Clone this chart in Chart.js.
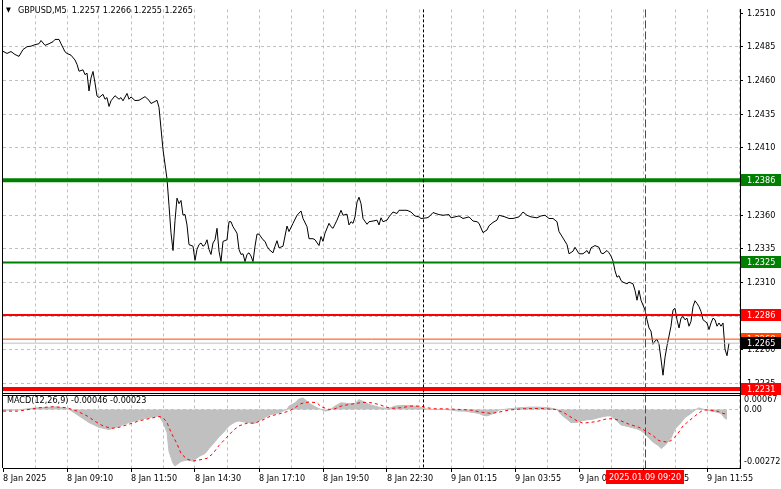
<!DOCTYPE html>
<html><head><meta charset="utf-8">
<script src="https://cdn.jsdelivr.net/npm/chart.js@4"></script>
<style>html,body{margin:0;padding:0;background:#fff;overflow:hidden}</style>
</head><body>
<canvas id="c" width="781" height="489"></canvas>
<script>
const FONT = "'DejaVu Sans Condensed','Liberation Sans',sans-serif";

// ---- time axis (bar index -> label) ----
const timeLabelBars = [0,32,64,96,128,160,192,224,256,288,320,352];
const timeLabels = ['8 Jan 2025','8 Jan 09:10','8 Jan 11:50','8 Jan 14:30','8 Jan 17:10','8 Jan 19:50','8 Jan 22:30','9 Jan 01:15','9 Jan 03:55','9 Jan 06:35','9 Jan 09:15','9 Jan 11:55'];
const daySeparatorBar = 210;      // 9 Jan 00:00
const markerBar = 321;            // 2025.01.09 09:20
const markerLabel = '2025.01.09 09:20';

// ---- price axis ----
const priceTicks = [1.2510,1.2485,1.2460,1.2435,1.2410,1.2385,1.2360,1.2335,1.2310,1.2285,1.2260,1.2235];
const macdTickLabels = ['0.00067','0.00','-0.00272'];
const macdTickValues = [0.00067,0,-0.00272];

// ---- header texts ----
const symbolText = 'GBPUSD,M5  1.2257 1.2266 1.2255 1.2265';
const macdText = 'MACD(12,26,9) -0.00046 -0.00023';

// ---- levels ----
const levelPrices = [1.2386, 1.2325, 1.2286, 1.2231, 1.2268, 1.2265];
const levelColors = ['#008000','#008000','#ff0000','#ff0000','#ff4500','#c0c0c0'];
const levelBoxColors = ['#008000','#008000','#ff0000','#ff0000','#ff4500','#000000'];

// ---- close prices [bar, close] ----
const priceSeries = [
[0,1.24818],[2,1.24802],[4,1.24816],[6,1.24794],[8,1.24780],[10,1.24831],[12,1.24852],[14,1.24856],[16,1.24867],[18,1.24874],
[19,1.24898],[21,1.24862],[23,1.24874],[25,1.24889],[26,1.24906],[28,1.24906],[29,1.24874],[31,1.24814],[32,1.24802],[34,1.24789],
[36,1.24753],[37,1.24721],[38,1.24670],[40,1.24680],[41,1.24644],[42,1.24656],[43,1.24523],[44,1.24620],[45,1.24668],[46,1.24583],
[47,1.24486],[48,1.24474],[50,1.24498],[51,1.24462],[52,1.24474],[53,1.24408],[54,1.24450],[56,1.24488],[58,1.24462],[59,1.24474],
[60,1.24450],[62,1.24505],[63,1.24462],[64,1.24479],[66,1.24452],[68,1.24454],[71,1.24481],[73,1.24454],[74,1.24430],[76,1.24445],
[77,1.24454],[78,1.24401],[80,1.24088],[82,1.23870],[83,1.23673],[84,1.23469],[85,1.23338],[86,1.23560],[87,1.23727],[88,1.23686],
[89,1.23710],[90,1.23601],[91,1.23606],[92,1.23528],[93,1.23382],[95,1.23370],[96,1.23265],[97,1.23346],[98,1.23382],[99,1.23394],
[100,1.23370],[101,1.23382],[102,1.23418],[103,1.23346],[104,1.23309],[105,1.23394],[106,1.23418],[107,1.23503],[108,1.23333],[109,1.23256],
[110,1.23406],[112,1.23418],[113,1.23552],[114,1.23552],[115,1.23515],[117,1.23467],[118,1.23346],[119,1.23309],[120,1.23314],[121,1.23256],
[122,1.23309],[123,1.23321],[124,1.23297],[125,1.23256],[126,1.23370],[127,1.23460],[128,1.23460],[130,1.23418],[131,1.23406],[132,1.23370],
[133,1.23346],[135,1.23321],[136,1.23370],[137,1.23411],[138,1.23358],[140,1.23370],[142,1.23520],[143,1.23479],[145,1.23540],[147,1.23600],
[149,1.23632],[150,1.23576],[152,1.23515],[153,1.23426],[155,1.23426],[156,1.23418],[158,1.23375],[159,1.23442],[160,1.23406],[161,1.23467],
[163,1.23540],[164,1.23515],[165,1.23503],[167,1.23564],[169,1.23637],[170,1.23600],[172,1.23608],[173,1.23528],[174,1.23552],[175,1.23540],
[176,1.23588],[177,1.23697],[178,1.23734],[179,1.23686],[180,1.23576],[182,1.23533],[183,1.23552],[185,1.23557],[187,1.23564],[188,1.23528],
[189,1.23581],[190,1.23552],[192,1.23564],[193,1.23588],[195,1.23624],[197,1.23613],[198,1.23637],[202,1.23637],[204,1.23624],[206,1.23595],
[208,1.23588],[209,1.23576],[212,1.23581],[213,1.23588],[215,1.23620],[218,1.23605],[220,1.23600],[223,1.23605],[224,1.23581],[226,1.23588],
[228,1.23595],[230,1.23576],[233,1.23588],[235,1.23557],[237,1.23552],[238,1.23540],[240,1.23471],[242,1.23491],[243,1.23522],[245,1.23547],
[247,1.23564],[248,1.23600],[251,1.23588],[253,1.23576],[255,1.23576],[258,1.23588],[260,1.23624],[262,1.23600],[264,1.23588],[267,1.23581],
[269,1.23595],[271,1.23600],[273,1.23576],[275,1.23576],[277,1.23552],[278,1.23479],[280,1.23431],[282,1.23382],[283,1.23314],[285,1.23333],
[286,1.23362],[288,1.23314],[290,1.23314],[292,1.23338],[293,1.23314],[294,1.23358],[296,1.23375],[298,1.23362],[299,1.23321],[300,1.23314],
[302,1.23338],[303,1.23321],[304,1.23297],[305,1.23260],[306,1.23188],[307,1.23140],[308,1.23151],[309,1.23115],[310,1.23103],[312,1.23091],
[313,1.23103],[315,1.23091],[316,1.23042],[317,1.22969],[318,1.23042],[319,1.22969],[320,1.22933],[321,1.22896],[322,1.22824],[323,1.22763],
[324,1.22739],[325,1.22642],[326,1.22666],[327,1.22678],[328,1.22642],[329,1.22532],[330,1.22412],[331,1.22545],[332,1.22630],[333,1.22703],
[334,1.22776],[335,1.22896],[336,1.22909],[337,1.22824],[338,1.22763],[339,1.22836],[340,1.22848],[341,1.22824],[342,1.22836],[343,1.22776],
[344,1.22812],[345,1.22921],[346,1.22965],[347,1.22945],[348,1.22921],[349,1.22885],[350,1.22824],[352,1.22800],[353,1.22751],[354,1.22800],
[355,1.22836],[356,1.22824],[357,1.22776],[358,1.22800],[359,1.22776],[360,1.22800],[361,1.22605],[362,1.22557],[363,1.22650]
];

// ---- MACD histogram [bar, value] ----
const macdSeries = [
[0,-0.00005],[8,-0.00002],[16,0.00007],[21,0.00009],[26,0.00012],[31,0.00007],[33,0],[37,-0.00024],[38,-0.00031],[43,-0.00063],
[48,-0.00086],[53,-0.00097],[58,-0.00081],[63,-0.00063],[68,-0.00050],[73,-0.00039],[78,-0.00031],[80,-0.00063],[82,-0.00110],[83,-0.00202],
[85,-0.00259],[86,-0.00272],[87,-0.00264],[89,-0.00250],[92,-0.00243],[95,-0.00248],[98,-0.00226],[101,-0.00212],[103,-0.00188],[106,-0.00155],
[108,-0.00132],[111,-0.00102],[113,-0.00079],[116,-0.00060],[118,-0.00055],[122,-0.00063],[126,-0.00066],[128,-0.00055],[131,-0.00038],[134,-0.00024],
[138,-0.00016],[140,-0.00008],[142,0],[143,0.00016],[146,0.00032],[148,0.00050],[150,0.00055],[152,0.00039],[154,0.00024],[157,0.00008],
[159,0],[161,-0.00008],[163,-0.00005],[166,0.00016],[169,0.00032],[173,0.00028],[176,0.00028],[178,0.00047],[181,0.00034],[183,0.00024],
[186,0.00016],[189,0.00008],[193,0.00005],[196,0.00016],[199,0.00019],[203,0.00019],[206,0.00016],[208,0.00013],[211,0.00003],[214,0],
[221,0],[224,-0.00003],[228,-0.00008],[231,-0.00008],[234,-0.00013],[238,-0.00019],[240,-0.00028],[242,-0.00031],[244,-0.00024],[246,-0.00016],
[248,-0.00003],[253,0.00003],[258,0.00008],[263,0.00011],[268,0.00011],[273,0.00008],[277,0],[279,-0.00024],[282,-0.00047],[284,-0.00063],
[287,-0.00063],[289,-0.00055],[292,-0.00050],[295,-0.00047],[298,-0.00039],[302,-0.00031],[304,-0.00031],[307,-0.00055],[309,-0.00075],[312,-0.00081],
[314,-0.00086],[317,-0.00094],[319,-0.00102],[321,-0.00118],[323,-0.00138],[325,-0.00157],[328,-0.00176],[329,-0.00188],[331,-0.00173],[334,-0.00138],
[336,-0.00094],[339,-0.00063],[341,-0.00039],[344,-0.00019],[346,-0.00003],[348,0.00008],[349,0.00003],[352,-0.00003],[354,-0.00008],[357,-0.00013],
[359,-0.00019],[361,-0.00044],[362,-0.00046]
];

// ---- MACD signal [bar, value] ----
const signalSeries = [
[0,-0.00008],[8,-0.00008],[13,0],[18,0.00008],[25,0.00013],[32,0.00008],[37,-0.00008],[42,-0.00031],[47,-0.00063],[50,-0.00079],
[54,-0.00091],[58,-0.00086],[63,-0.00071],[68,-0.00055],[73,-0.00044],[78,-0.00034],[80,-0.00039],[82,-0.00063],[84,-0.00110],[87,-0.00165],
[89,-0.00212],[92,-0.00239],[95,-0.00248],[98,-0.00243],[102,-0.00235],[105,-0.00212],[108,-0.00173],[112,-0.00133],[115,-0.00102],[118,-0.00079],
[122,-0.00066],[126,-0.00066],[130,-0.00050],[134,-0.00031],[139,-0.00019],[143,-0.00008],[146,0.00008],[149,0.00028],[153,0.00036],[157,0.00032],
[159,0.00013],[163,0],[166,0.00003],[169,0.00016],[173,0.00024],[176,0.00028],[180,0.00034],[184,0.00032],[188,0.00024],[191,0.00013],
[194,0.00005],[199,0.00008],[204,0.00016],[209,0.00016],[212,0.00008],[216,0.00003],[221,0.00003],[228,0],[234,-0.00003],[239,-0.00013],
[244,-0.00019],[248,-0.00013],[253,-0.00003],[260,0.00003],[268,0.00005],[276,0],[280,-0.00013],[283,-0.00031],[287,-0.00055],[290,-0.00066],
[293,-0.00063],[297,-0.00058],[301,-0.00047],[305,-0.00044],[309,-0.00055],[313,-0.00071],[318,-0.00086],[321,-0.00102],[325,-0.00126],[328,-0.00150],
[332,-0.00157],[334,-0.00150],[337,-0.00122],[340,-0.00079],[344,-0.00047],[347,-0.00024],[350,-0.00003],[353,-0.00003],[357,-0.00008],[360,-0.00019],
[362,-0.00023]
];

const X_MAX = 368.5;
const gridBars = [];
timeLabelBars.forEach(b => { gridBars.push(b); gridBars.push(b + 16); });

const toXY = s => s.map(p => ({x: p[0], y: p[1]}));

const levelDatasets = levelPrices.map((p, i) => ({
  type: 'line', yAxisID: 'y', data: [{x: 0, y: p}, {x: X_MAX, y: p}],
  borderColor: levelColors[i], borderWidth: [4,2,2,4,1,1][i], pointRadius: 0, fill: false
}));

const overlay = {
  id: 'overlay',
  afterDatasetsDraw(chart) {
    const {ctx, chartArea: a, scales: {x}} = chart;
    ctx.save();
    ctx.lineWidth = 1;
    let px = Math.round(x.getPixelForValue(daySeparatorBar)) + 0.5;
    ctx.strokeStyle = '#000'; ctx.setLineDash([3, 2]);
    ctx.beginPath(); ctx.moveTo(px, a.top); ctx.lineTo(px, a.bottom); ctx.stroke();
    px = Math.round(x.getPixelForValue(markerBar)) + 0.5;
    ctx.strokeStyle = '#ff0000'; ctx.setLineDash([8, 3]);
    ctx.beginPath(); ctx.moveTo(px, a.top); ctx.lineTo(px, a.bottom); ctx.stroke();
    ctx.restore();
  },
  afterDraw(chart) {
    const {ctx, chartArea: a, scales: {x, y, y2}} = chart;
    ctx.save();
    ctx.setLineDash([]);
    ctx.strokeStyle = '#000'; ctx.lineWidth = 1;
    // left border and panel separators
    ctx.beginPath(); ctx.moveTo(2.5, 0); ctx.lineTo(2.5, a.bottom); ctx.stroke();
    const sep = Math.round(y.bottom);
    ctx.beginPath(); ctx.moveTo(2, sep - 0.5); ctx.lineTo(a.right, sep - 0.5); ctx.stroke();
    ctx.beginPath(); ctx.moveTo(2, sep + 1.5); ctx.lineTo(a.right, sep + 1.5); ctx.stroke();
    // headers
    ctx.fillStyle = '#000';
    ctx.textBaseline = 'middle'; ctx.textAlign = 'left';
    ctx.font = '7px ' + FONT;
    ctx.fillText('\u25BC', 6, 10.5);
    ctx.font = '9px ' + FONT;
    ctx.fillText(symbolText, 18, 10.5);
    ctx.fillText(macdText, 7, 401);
    // macd scale labels
    macdTickValues.forEach((v, i) => {
      let py = y2.getPixelForValue(v);
      if (i === 0) py += 4; if (i === 2) py -= 4;
      ctx.fillText(macdTickLabels[i], 744, py);
    });
    // level price boxes
    [4, 5, 0, 1, 2, 3].forEach(i => {
      const py = Math.round(y.getPixelForValue(levelPrices[i]));
      ctx.fillStyle = levelBoxColors[i];
      ctx.fillRect(741, py - 6, 40, 12);
      ctx.fillStyle = '#fff';
      ctx.fillText(levelPrices[i].toFixed(4), 747, py + 0.5);
    });
    // marker time box
    const cx = Math.round(x.getPixelForValue(markerBar));
    ctx.fillStyle = '#ff0000';
    ctx.fillRect(cx - 39, 470, 78, 14);
    ctx.fillStyle = '#fff'; ctx.textAlign = 'center';
    ctx.fillText(markerLabel, cx, 477.5);
    ctx.restore();
  }
};

new Chart(document.getElementById('c'), {
  type: 'line',
  data: {
    datasets: [
      ...levelDatasets,
      {type: 'line', yAxisID: 'y', data: toXY(priceSeries), borderColor: '#000', borderWidth: 1, pointRadius: 0, tension: 0, fill: false},
      {type: 'line', yAxisID: 'y2', data: toXY(signalSeries), borderColor: '#ff0000', borderWidth: 1, borderDash: [3, 3], pointRadius: 0, fill: false},
      {type: 'line', yAxisID: 'y2', data: toXY(macdSeries), borderColor: '#c0c0c0', backgroundColor: '#c0c0c0', borderWidth: 1, pointRadius: 0, fill: 'origin'}
    ]
  },
  options: {
    responsive: false, animation: false, devicePixelRatio: 1,
    layout: {padding: {left: 3, right: 0, top: 0, bottom: 0}},
    plugins: {legend: {display: false}, tooltip: {enabled: false}},
    scales: {
      x: {
        type: 'linear', min: 0, max: X_MAX,
        afterBuildTicks: s => { s.ticks = gridBars.map(v => ({value: v})); },
        afterFit: s => { s.height = 21; },
        ticks: {
          autoSkip: false, maxRotation: 0, minRotation: 0, align: 'start', padding: 1,
          color: '#000', font: {family: FONT, size: 9},
          callback: v => { const i = timeLabelBars.indexOf(v); return i >= 0 ? timeLabels[i] : ''; }
        },
        grid: {
          color: c => (c.tick && c.tick.value === 0) ? 'rgba(0,0,0,0)' : '#c0c0c0',
          tickColor: c => (c.tick && timeLabelBars.indexOf(c.tick.value) >= 0) ? '#000' : 'rgba(0,0,0,0)',
          tickLength: 4
        },
        border: {display: true, color: '#000', dash: [3, 3]}
      },
      y: {
        type: 'linear', position: 'right', stack: 'v', stackWeight: 392,
        min: 1.22276, max: 1.25129,
        afterBuildTicks: s => { s.ticks = priceTicks.map(v => ({value: v})); },
        afterFit: s => { s.width = 41; },
        ticks: {autoSkip: false, padding: 4, color: '#000', font: {family: FONT, size: 9}, callback: v => v.toFixed(4)},
        grid: {
          color: c => (c.tick && c.tick.value > 1.2505) ? 'rgba(0,0,0,0)' : '#c0c0c0',
          tickColor: '#000', tickLength: 3
        },
        border: {display: true, color: '#000', dash: [3, 3]}
      },
      y2: {
        type: 'linear', position: 'right', stack: 'v', stackWeight: 76,
        min: -0.002814, max: 0.000764,
        afterBuildTicks: s => { s.ticks = [{value: 0}]; },
        afterFit: s => { s.width = 41; },
        ticks: {display: false},
        grid: {color: '#c0c0c0', drawTicks: false},
        border: {display: true, color: '#000', dash: [3, 3]}
      }
    }
  },
  plugins: [overlay]
});
</script>
</body></html>
